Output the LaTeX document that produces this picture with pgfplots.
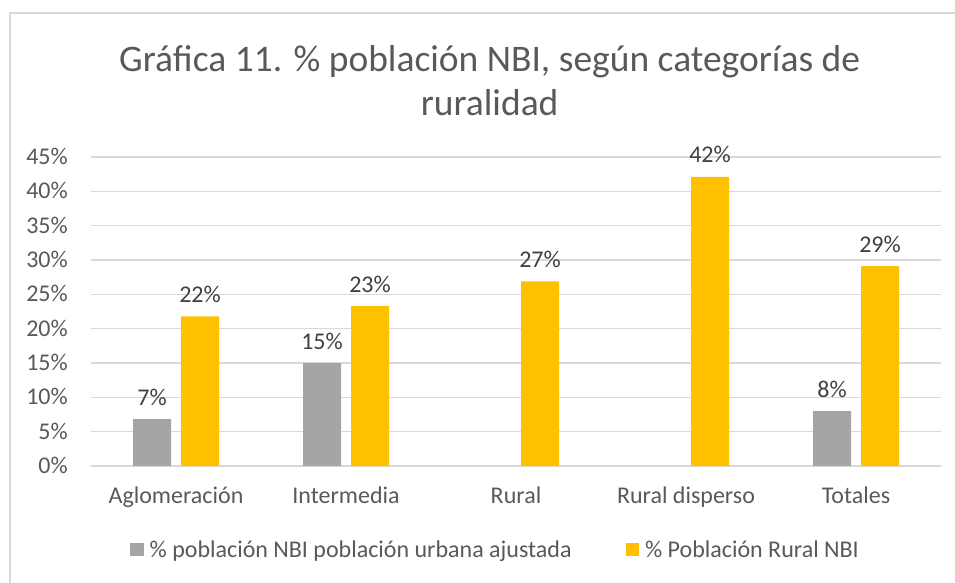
\documentclass[border=0pt]{standalone}
\usepackage{fontspec}
\setmainfont{Carlito}
\usepackage{pgfplots}
\pgfplotsset{compat=1.18}
\definecolor{cgray}{HTML}{A5A5A5}
\definecolor{corange}{HTML}{FFC000}
\definecolor{ctext}{HTML}{595959}
\definecolor{clab}{HTML}{404040}
\definecolor{cgrid}{HTML}{D9D9D9}
\begin{document}
\begin{tikzpicture}
\draw[cgrid, line width=1.5pt] (10pt,-20pt) -- (10pt,569pt) -- (975pt,569pt);
\begin{axis}[
  at={(91pt,116pt)}, anchor=south west,
  scale only axis, width=850pt, height=309pt,
  ybar=10pt, bar width=38pt,
  xmin=-0.5, xmax=4.5, ymin=0, ymax=45,
  xtick={0,1,2,3,4},
  xticklabels={Aglomeración,Intermedia,Rural,Rural disperso,Totales},
  ytick={0,5,10,15,20,25,30,35,40,45},
  yticklabel={\pgfmathprintnumber{\tick}\%},
  /pgf/number format/assume math mode=true,
  major tick length=0pt,
  axis line style={draw=none},
  ymajorgrids, grid style={cgrid, line width=1.3pt},
  xticklabel style={font=\fontsize{24}{28}\selectfont, text=ctext, anchor=base, inner sep=0pt, yshift=-37pt},
  yticklabel style={font=\fontsize{24}{28}\selectfont, text=ctext, anchor=base east, inner sep=0pt, xshift=-23pt, yshift=-7.5pt},
  title={Gráfica 11. \% población NBI, según categorías de\\ruralidad},
  title style={at={(0.469,1.1133)}, anchor=base, align=center, font=\fontsize{37.5}{44.5}\selectfont, text=ctext, inner sep=0pt},
  nodes near coords={\pgfmathprintnumber[fixed,precision=0]{\pgfplotspointmeta}\%},
  every node near coord/.append style={font=\fontsize{24}{28}\selectfont, text=clab, anchor=base, inner sep=0pt, yshift=14pt},
  legend columns=2,
  legend style={draw=none, at={(0.4747,-0.272)}, anchor=center, font=\fontsize{24}{28}\selectfont, text=ctext,
    /tikz/every odd column/.append style={column sep=6pt},
    /tikz/every even column/.append style={column sep=54pt}, inner sep=0pt,
    nodes={inner sep=0pt}},
  legend cell align=left,
  clip=false,
]
\addplot[fill=cgray, draw=none, legend image code/.code={\fill[cgray] (0pt,-6pt) rectangle (13.5pt,7.5pt);}] coordinates {(0,6.84) (1,15.0) (4,8.0)};
\addlegendentry{\% población NBI población urbana ajustada}
\addplot[fill=corange, draw=none, legend image code/.code={\fill[corange] (0pt,-6pt) rectangle (13.5pt,7.5pt);}] coordinates {(0,21.8) (1,23.3) (2,26.9) (3,42.1) (4,29.1)};
\addlegendentry{\% Población Rural NBI}
\end{axis}
\pgfresetboundingbox
\path[use as bounding box] (0,0) rectangle (955pt,582pt);
\end{tikzpicture}
\end{document}
